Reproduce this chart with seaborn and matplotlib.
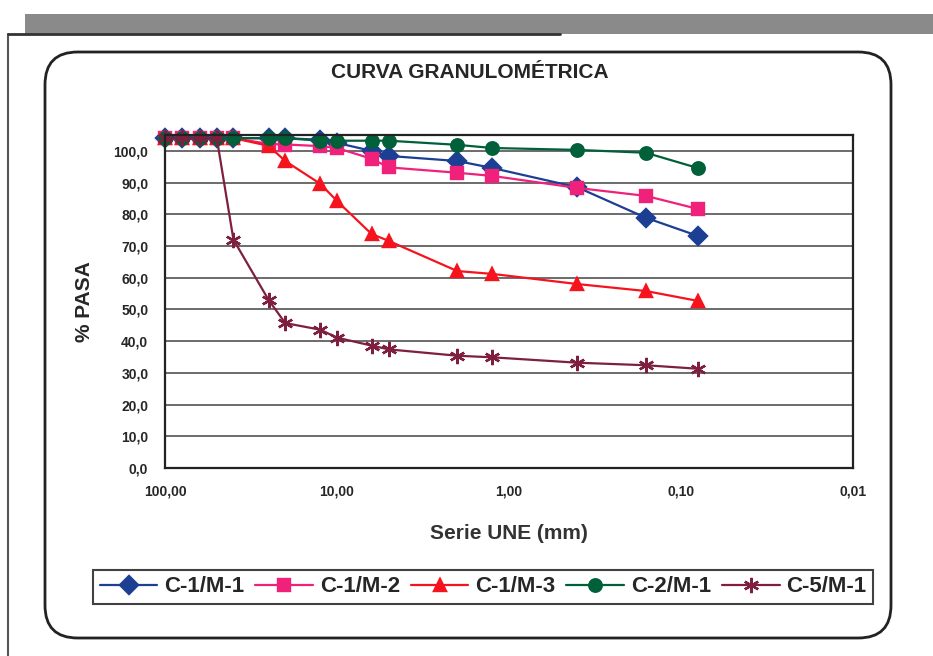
import seaborn as sns
import matplotlib.pyplot as plt
from matplotlib.patches import FancyBboxPatch, Rectangle
from matplotlib.lines import Line2D
from matplotlib.ticker import FixedLocator, NullLocator

sns.set_style("white")
plt.rcParams['font.family'] = ['Liberation Sans', 'DejaVu Sans']

# sieve sizes of the UNE series (mm)
sizes = [100, 80, 63, 50, 40, 25, 20, 12.5, 10, 6.3, 5, 2, 1.25, 0.4, 0.16, 0.08]

# % passing
c1_m1 = [104, 104, 104, 104, 104, 104, 104, 103.5, 102.5, 100, 98.4, 96.8, 94.6, 88.5, 78.9, 73.2]
c1_m2 = [104, 104, 104, 104, 104, 102.2, 102, 101.5, 100.9, 97.5, 94.8, 93.1, 92.1, 88.3, 85.8, 81.7]
c1_m3 = [104, 104, 104, 104, 104, 101.6, 96.8, 89.6, 84.2, 73.8, 71.6, 62.1, 61.2, 58.0, 55.8, 52.7]
c2_m1 = [104, 104, 104, 104, 104, 104, 104, 103.2, 103.2, 103.2, 103.2, 101.9, 100.9, 100.3, 99.4, 94.6]
c5_m1 = [104, 104, 104, 104, 72.0, 53.0, 45.7, 43.6, 41.1, 38.6, 37.4, 35.4, 34.9, 33.2, 32.4, 31.3]

names = ["C-1/M-1", "C-1/M-2", "C-1/M-3", "C-2/M-1", "C-5/M-1"]
series = [c1_m1, c1_m2, c1_m3, c2_m1, c5_m1]
colors = ["#1C3F94", "#F0217A", "#F5141E", "#00603A", "#7F1F3F"]
markers = ["D", "s", "^", "o", (6, 2, 0)]

y_ticks = [0, 10, 20, 30, 40, 50, 60, 70, 80, 90, 100]
y_labels = ["0,0", "10,0", "20,0", "30,0", "40,0", "50,0", "60,0", "70,0", "80,0", "90,0", "100,0"]
x_ticks = [100, 10, 1, 0.1, 0.01]
x_labels = ["100,00", "10,00", "1,00", "0,10", "0,01"]

W, H = 933, 656
fig = plt.figure(figsize=(W / 100, H / 100), dpi=100)

# scanned page bits: grey band on top, page edge, rounded chart frame
fig.patches.append(Rectangle((25 / W, 1 - 34 / H), 908 / W, 20 / H, transform=fig.transFigure,
                             facecolor="#8a8a8a", edgecolor="none"))
fig.lines.append(Line2D([8 / W, 8 / W], [0, 1 - 34 / H], transform=fig.transFigure, color="#555", lw=1.5))
fig.lines.append(Line2D([8 / W, 560 / W], [1 - 34 / H, 1 - 34 / H], transform=fig.transFigure, color="#333", lw=2))
fig.patches.append(FancyBboxPatch((45 / W, 1 - 638 / H), 846 / W, 586 / H,
                                  boxstyle="round,pad=0,rounding_size=0.035",
                                  transform=fig.transFigure, facecolor="none",
                                  edgecolor="#222", lw=2, mutation_aspect=W / H))

ax = fig.add_axes([165 / W, 1 - 468 / H, 688 / W, 333 / H])
ax.set_xscale("log")

for name, vals, col, mk in zip(names, series, colors, markers):
    ms = 11 if mk == (6, 2, 0) else 9
    sns.lineplot(x=sizes, y=vals, ax=ax, color=col, marker=mk, markersize=ms,
                 markeredgecolor=col, markeredgewidth=1.7, linewidth=1.6, label=name,
                 clip_on=False)

ax.set_xlim(100, 0.01)
ax.set_ylim(0, 105)
ax.xaxis.set_major_locator(FixedLocator(x_ticks))
ax.xaxis.set_minor_locator(NullLocator())
ax.set_xticklabels(x_labels, fontsize=10, fontweight="bold")
ax.set_yticks(y_ticks)
ax.set_yticklabels(y_labels, fontsize=10, fontweight="bold")
ax.tick_params(axis="both", direction="out", length=5, width=1.2, color="#222", pad=7)
for sp in ax.spines.values():
    sp.set_color("#222")
    sp.set_linewidth(1.6)
ax.yaxis.grid(True, color="#444", linewidth=1.1)
ax.xaxis.grid(False)
ax.set_axisbelow(True)

ax.set_xlabel("Serie UNE (mm)", fontsize=15, fontweight="bold", color="#333", labelpad=18)
ax.set_ylabel("% PASA", fontsize=15, fontweight="bold", labelpad=14)
fig.text(470 / W, 1 - 73 / H, "CURVA GRANULOMÉTRICA", ha="center", va="center",
         fontsize=15, fontweight="bold")

leg = ax.legend(loc="center", bbox_to_anchor=(93 / W, 1 - 607 / H, 780 / W, 40 / H),
                bbox_transform=fig.transFigure, mode="expand", ncol=5, fancybox=False,
                frameon=True, edgecolor="#111", handlelength=2.6, fontsize=16,
                borderaxespad=0, handletextpad=0.3, columnspacing=0.5, borderpad=0.3)
leg.get_frame().set_linewidth(1.5)
for t in leg.get_texts():
    t.set_fontweight("bold")

fig.savefig("out.png", dpi=100)
